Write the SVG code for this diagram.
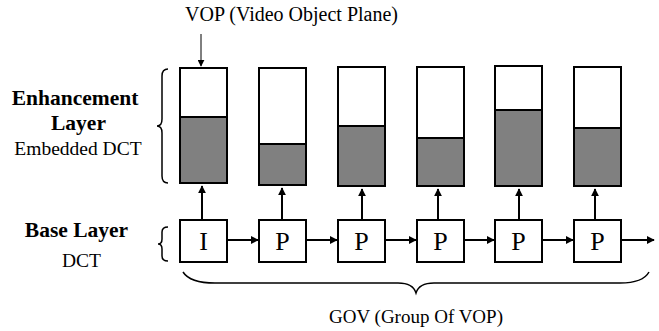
<svg xmlns="http://www.w3.org/2000/svg" width="659" height="331" viewBox="0 0 659 331">
<style>
text{font-family:'Liberation Serif','Times New Roman',Times,serif;fill:#000}
.lbl{font-size:20px}
.reg{font-size:19.5px}
.b{font-weight:bold;font-size:21.5px}
.box{fill:#fff;stroke:#000;stroke-width:2}
.gray{fill:#808080;stroke:#000;stroke-width:2}
.ltr{font-size:26px;text-anchor:middle}
.ar{fill:none;stroke:#000;stroke-width:2}
.thin{fill:none;stroke:#000;stroke-width:1}
.br{fill:none;stroke:#000;stroke-width:1.5}
</style>
<defs>
<marker id="ah" viewBox="0 0 10 10" refX="9" refY="5" markerWidth="4" markerHeight="4" markerUnits="strokeWidth" orient="auto">
<path d="M0,0 L10,5 L0,10 z" fill="#000"/>
</marker>
<marker id="ah2" viewBox="0 0 10 10" refX="9" refY="5" markerWidth="7" markerHeight="7" markerUnits="strokeWidth" orient="auto">
<path d="M0,0 L10,5 L0,10 z" fill="#000"/>
</marker>
</defs>
<rect width="659" height="331" fill="#fff"/>

<g id="labels">
<text class="b" x="75" y="105" text-anchor="middle">Enhancement</text>
<text class="b" x="78.5" y="130" text-anchor="middle">Layer</text>
<text class="reg" x="78" y="155" text-anchor="middle">Embedded DCT</text>
<text class="b" x="76.5" y="237" text-anchor="middle">Base Layer</text>
<text class="reg" x="81.5" y="267" text-anchor="middle">DCT</text>
<text class="lbl" x="185" y="21">VOP (Video Object Plane)</text>
<text class="reg" x="329" y="323" style="font-size:19px">GOV (Group Of VOP)</text>
</g>

<g id="braces">
<path class="br" d="M168,69 Q162,69 162,76 L162,119 Q162,126 157,126 Q162,126 162,133 L162,176 Q162,183 168,183"/>
<path class="br" d="M168,227 Q162,227 162,232 L162,239 Q162,244 158,244 Q162,244 162,249 L162,256 Q162,261 168,261"/>
<path class="br" d="M183,272 Q190,283 215,283 L398,283 Q413,283 416,293 Q419,283 434,283 L620,283 Q643,283 649,272"/>
</g>

<g id="enh1"><rect class="box" x="180" y="68" width="47" height="115"/><rect class="gray" x="180" y="117" width="47" height="66"/></g>
<g id="enh2"><rect class="box" x="259" y="68" width="47" height="117"/><rect class="gray" x="259" y="144" width="47" height="41"/></g>
<g id="enh3"><rect class="box" x="338" y="67" width="47" height="119"/><rect class="gray" x="338" y="126" width="47" height="60"/></g>
<g id="enh4"><rect class="box" x="417" y="67" width="47" height="119"/><rect class="gray" x="417" y="138" width="47" height="48"/></g>
<g id="enh5"><rect class="box" x="495" y="66" width="47" height="120"/><rect class="gray" x="495" y="110" width="47" height="76"/></g>
<g id="enh6"><rect class="box" x="574" y="67" width="47" height="119"/><rect class="gray" x="574" y="128" width="47" height="58"/></g>

<g id="base1"><rect class="box" x="180" y="220" width="47" height="42"/><text class="ltr" x="203.5" y="250">I</text></g>
<g id="base2"><rect class="box" x="259" y="220" width="47" height="42"/><text class="ltr" x="282.5" y="250">P</text></g>
<g id="base3"><rect class="box" x="338" y="220" width="47" height="42"/><text class="ltr" x="361.5" y="250">P</text></g>
<g id="base4"><rect class="box" x="417" y="220" width="47" height="42"/><text class="ltr" x="440.5" y="250">P</text></g>
<g id="base5"><rect class="box" x="495" y="220" width="47" height="42"/><text class="ltr" x="518.5" y="250">P</text></g>
<g id="base6"><rect class="box" x="574" y="220" width="47" height="42"/><text class="ltr" x="597.5" y="250">P</text></g>

<g id="connectors">
<line class="thin" x1="201" y1="34" x2="201" y2="66" marker-end="url(#ah2)"/>
<line class="ar" x1="202" y1="219" x2="202" y2="186" marker-end="url(#ah)"/>
<line class="ar" x1="282" y1="219" x2="282" y2="188" marker-end="url(#ah)"/>
<line class="ar" x1="362" y1="219" x2="362" y2="189" marker-end="url(#ah)"/>
<line class="ar" x1="438" y1="219" x2="438" y2="189" marker-end="url(#ah)"/>
<line class="ar" x1="519" y1="219" x2="519" y2="189" marker-end="url(#ah)"/>
<line class="ar" x1="595" y1="219" x2="595" y2="189" marker-end="url(#ah)"/>
<line class="ar" x1="228" y1="240" x2="258" y2="240" marker-end="url(#ah)"/>
<line class="ar" x1="307" y1="240" x2="337" y2="240" marker-end="url(#ah)"/>
<line class="ar" x1="386" y1="240" x2="416" y2="240" marker-end="url(#ah)"/>
<line class="ar" x1="465" y1="240" x2="494" y2="240" marker-end="url(#ah)"/>
<line class="ar" x1="543" y1="240" x2="573" y2="240" marker-end="url(#ah)"/>
<line class="ar" x1="622" y1="240" x2="654" y2="240" marker-end="url(#ah)"/>
</g>
</svg>
